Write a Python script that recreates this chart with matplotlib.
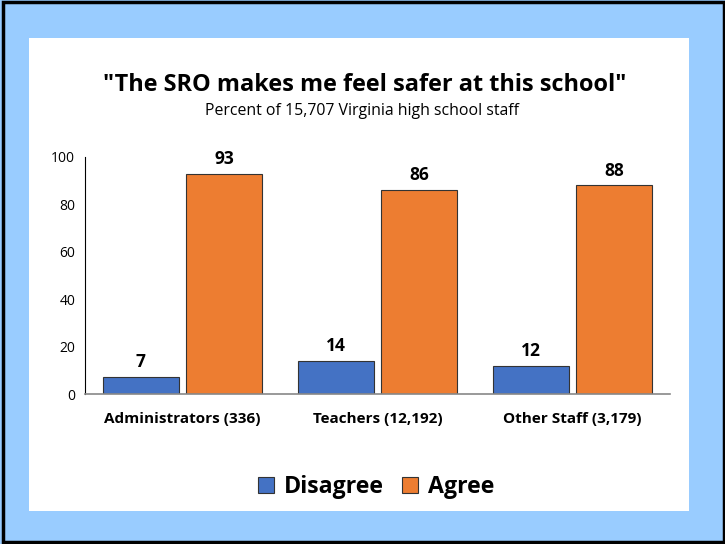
import matplotlib.pyplot as plt
from matplotlib.patches import Rectangle

groups = ["Administrators (336)", "Teachers (12,192)", "Other Staff (3,179)"]
disagree = [7, 14, 12]
agree = [93, 86, 88]
yticks = [0, 20, 40, 60, 80, 100]

plt.rcParams['font.family'] = ['Open Sans', 'DejaVu Sans']

fig = plt.figure(figsize=(7.25, 5.44), dpi=100)
fig.patch.set_facecolor('#99ccff')

# white panel and outer frame
fig.patches.append(Rectangle((29 / 725, 1 - 511 / 544), 660 / 725, 473 / 544,
                             transform=fig.transFigure, facecolor='white',
                             edgecolor='none', zorder=-10))
fig.patches.append(Rectangle((0.004, 0.004), 0.994, 0.992, transform=fig.transFigure,
                             facecolor='none', edgecolor='black', linewidth=2.5, zorder=10))

ax = fig.add_axes([85 / 725, 1 - 394 / 544, 585 / 725, 237 / 544])
ax.set_facecolor('none')

x = list(range(len(groups)))
w = 0.39
off = 0.214
b1 = ax.bar([i - off for i in x], disagree, w, color='#4472c4', edgecolor='#333333', linewidth=0.8)
b2 = ax.bar([i + off for i in x], agree, w, color='#ed7d31', edgecolor='#333333', linewidth=0.8)

for bars, vals in ((b1, disagree), (b2, agree)):
    for b, v in zip(bars, vals):
        ax.text(b.get_x() + b.get_width() / 2, v + 2.5, str(v), ha='center', va='bottom',
                fontsize=12.5, fontweight='bold')

ax.set_xlim(-0.5, 2.5)
ax.set_ylim(0, 100)
ax.set_yticks(yticks)
ax.tick_params(axis='y', length=0, labelsize=10, pad=7)
ax.set_xticks(x)
ax.set_xticklabels(groups, fontsize=11, fontweight='bold')
ax.tick_params(axis='x', length=0, pad=13)
ax.spines['top'].set_visible(False)
ax.spines['right'].set_visible(False)
ax.spines['left'].set_color('black')
ax.spines['left'].set_linewidth(0.8)
ax.spines['bottom'].set_color('#888888')
ax.spines['bottom'].set_linewidth(1.2)

fig.text(365 / 725, 1 - 85 / 544, '"The SRO makes me feel safer at this school"',
         ha='center', va='center', fontsize=16.9, fontweight='bold')
fig.text(362 / 725, 1 - 111 / 544, 'Percent of 15,707 Virginia high school staff',
         ha='center', va='center', fontsize=11.4)

leg = fig.legend([b1, b2], ['Disagree', 'Agree'], loc='center', bbox_to_anchor=(376 / 725, 1 - 487 / 544),
                 ncol=2, frameon=False, prop={'size': 16.7, 'weight': 'bold'},
                 handlelength=0.7, handleheight=0.7, handletextpad=0.4, columnspacing=0.8)

fig.savefig('out.png', dpi=100, facecolor=fig.get_facecolor())
